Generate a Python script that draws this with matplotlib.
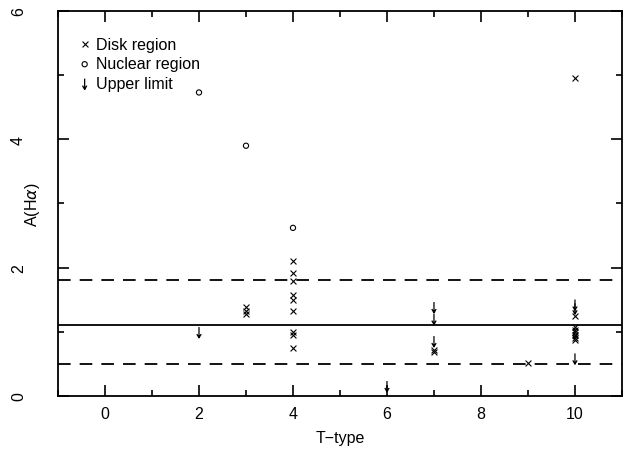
import matplotlib
matplotlib.use("Agg")
import matplotlib.pyplot as plt
from matplotlib.path import Path
from matplotlib.ticker import MultipleLocator

plt.rcParams['font.family'] = ['Liberation Sans', 'DejaVu Sans']

# Disk region measurements
disk_t = [3, 3, 3,
          4, 4, 4, 4, 4, 4, 4, 4, 4,
          7, 7,
          9,
          10, 10, 10, 10, 10, 10, 10, 10]
disk_a = [1.38, 1.32, 1.28,
          2.10, 1.92, 1.79, 1.57, 1.50, 1.32, 1.00, 0.95, 0.75,
          0.72, 0.68,
          0.52,
          4.95, 1.25, 1.07, 1.03, 1.00, 0.95, 0.90, 0.87]

# Nuclear region measurements
nuc_t = [2, 3, 4]
nuc_a = [4.73, 3.90, 2.62]

# Upper limits
ul_t = [2, 6, 7, 7, 7, 10, 10, 10, 10]
ul_a = [0.99, 0.15, 1.38, 1.20, 0.85, 1.42, 1.36, 0.98, 0.58]

# reference lines: mean and +/- spread
mean_a = 1.11
upper_a = 1.80
lower_a = 0.50

# down-arrow marker (open head)
arrow = Path([(0, 1), (0, -1), (-0.4, -0.3), (0, -1), (0.4, -0.3)],
             [Path.MOVETO, Path.LINETO, Path.MOVETO, Path.LINETO, Path.LINETO])

fig = plt.figure(figsize=(6.34, 4.52), dpi=100)
ax = fig.add_axes([0.0915, 0.1217, 0.8895, 0.8518])

ax.scatter(disk_t, disk_a, marker='x', s=18, c='black', linewidths=0.8,
           label='Disk region')
ax.scatter(nuc_t, nuc_a, marker='o', s=14, facecolors='none', edgecolors='black',
           linewidths=0.8, label='Nuclear region')
ax.scatter(ul_t, ul_a, marker=arrow, s=60, facecolors='none', edgecolors='black',
           linewidths=0.9, label='Upper limit')

ax.axhline(mean_a, color='black', lw=1.3)
ax.axhline(upper_a, color='black', lw=1.3, ls=(0, (7, 5)))
ax.axhline(lower_a, color='black', lw=1.3, ls=(0, (7, 5)))

ax.set_xlim(-1, 11)
ax.set_ylim(0, 6)
ax.xaxis.set_major_locator(MultipleLocator(2))
ax.xaxis.set_minor_locator(MultipleLocator(1))
ax.yaxis.set_major_locator(MultipleLocator(2))
ax.yaxis.set_minor_locator(MultipleLocator(1))
ax.tick_params(which='both', direction='in', top=True, right=True,
               labelsize=11.5, width=1.2)
ax.tick_params(which='major', length=8)
ax.tick_params(which='minor', length=4)
ax.tick_params(axis='x', which='major', pad=7)
ax.tick_params(axis='y', which='major', pad=23)
for lbl in ax.get_yticklabels():
    lbl.set_rotation(90)
    lbl.set_va('center')
for sp in ax.spines.values():
    sp.set_linewidth(1.3)

ax.set_xlabel('T\u2212type', fontsize=11.5)
ax.set_ylabel(r'A(H$\alpha$)', fontsize=11.5)
ax.xaxis.set_label_coords(0.5, -0.107)
ax.yaxis.set_label_coords(-0.046, 0.5)
ax.xaxis.label.set_va('center')
ax.yaxis.label.set_va('center')

ax.legend(loc='upper left', frameon=False, fontsize=11.5, handletextpad=0.35,
          labelspacing=0.3, borderaxespad=0, bbox_to_anchor=(0.026, 0.95),
          scatterpoints=1, handlelength=0.7)

fig.savefig('out.png', dpi=100)
